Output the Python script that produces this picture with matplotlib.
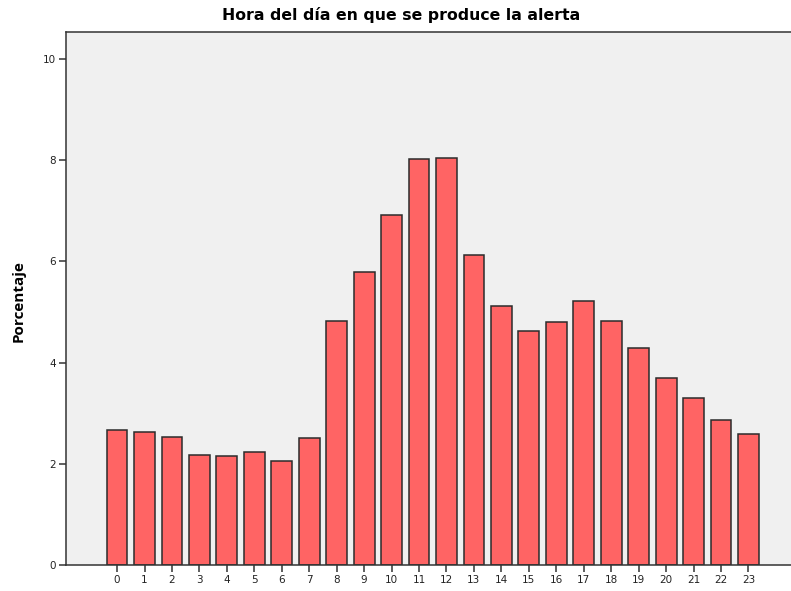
import numpy as np
import matplotlib
matplotlib.use('Agg')
import matplotlib.pyplot as plt

# Porcentaje de alertas por hora del día
horas = [str(h) for h in range(24)]
porcentaje = [2.67, 2.62, 2.53, 2.17, 2.15, 2.23, 2.06, 2.51,
              4.82, 5.79, 6.92, 8.02, 8.05, 6.13, 5.12, 4.62,
              4.80, 5.21, 4.82, 4.29, 3.70, 3.30, 2.87, 2.58]
y_ticks = [0, 2, 4, 6, 8, 10]

fig = plt.figure(figsize=(7.91, 5.91), dpi=100)
ax = fig.add_axes([66 / 791, 1 - 565 / 591, 1 - 66 / 791, (565 - 32) / 591])
ax.set_facecolor('#f0f0f0')

x = np.arange(len(horas))
ax.bar(x, porcentaje, width=0.76, color='#ff6464', edgecolor='#2b2b2b', linewidth=1.1, zorder=2)

ax.set_xlim(-1.86, 24.55)
ax.set_ylim(0, 10.53)
ax.set_xticks(x)
ax.set_xticklabels(horas, fontsize=7.5, color='#222222', family='DejaVu Sans')
ax.set_yticks(y_ticks)
ax.set_yticklabels([str(t) for t in y_ticks], fontsize=7.5, color='#222222', family='DejaVu Sans')
ax.tick_params(axis='both', direction='out', length=5, width=1.1, color='#333333', pad=2)

for s in ['left', 'top', 'bottom']:
    ax.spines[s].set_color('#333333')
    ax.spines[s].set_linewidth(1.1)
ax.spines['right'].set_visible(False)

fig.text(401 / 791, 1 - 15 / 591, 'Hora del día en que se produce la alerta',
         ha='center', va='center', fontsize=11.3, fontweight='bold', family='DejaVu Sans')
fig.text(19 / 791, 1 - 301 / 591, 'Porcentaje', rotation=90, ha='center', va='center',
         fontsize=11, fontweight='bold', family='Open Sans')

plt.savefig('out.png', dpi=100)
plt.close()
